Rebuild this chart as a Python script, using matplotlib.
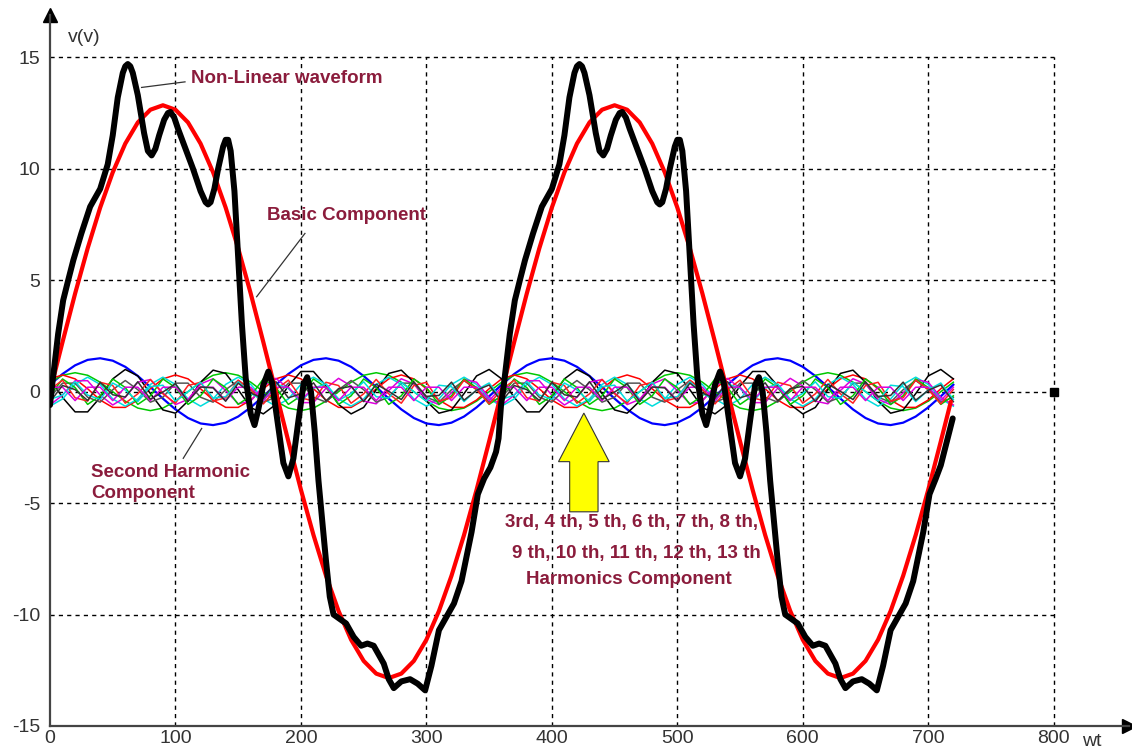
import numpy as np
import matplotlib
matplotlib.use("Agg")
import matplotlib.pyplot as plt
from matplotlib.patches import Polygon

# ---------------- data ----------------
# Basic (fundamental) component, red
fund_wt = [0, 10, 20, 30, 40, 50, 60, 70, 80, 90, 100, 110, 120, 130, 140, 150, 160, 170,
           180, 190, 200, 210, 220, 230, 240, 250, 260, 270, 280, 290, 300, 310, 320, 330, 340, 350,
           360, 370, 380, 390, 400, 410, 420, 430, 440, 450, 460, 470, 480, 490, 500, 510, 520, 530,
           540, 550, 560, 570, 580, 590, 600, 610, 620, 630, 640, 650, 660, 670, 680, 690, 700, 710, 718]
fund_v = [0.0, 2.23, 4.40, 6.43, 8.26, 9.84, 11.13, 12.08, 12.65, 12.85, 12.65, 12.08, 11.13, 9.84, 8.26, 6.43, 4.40, 2.23,
          0.0, -2.23, -4.40, -6.43, -8.26, -9.84, -11.13, -12.08, -12.65, -12.85, -12.65, -12.08, -11.13, -9.84, -8.26, -6.43, -4.40, -2.23,
          0.0, 2.23, 4.40, 6.43, 8.26, 9.84, 11.13, 12.08, 12.65, 12.85, 12.65, 12.08, 11.13, 9.84, 8.26, 6.43, 4.40, 2.23,
          0.0, -2.23, -4.40, -6.43, -8.26, -9.84, -11.13, -12.08, -12.65, -12.85, -12.65, -12.08, -11.13, -9.84, -8.26, -6.43, -4.40, -2.23, -0.45]

# Non-linear waveform, black thick
nonlin_wt = [0, 1.5, 6.5, 10.5, 14.5, 18.6, 25, 32, 40, 46, 50, 54, 58, 60, 62, 64, 66, 70, 75, 78, 81, 84, 87, 91, 94, 96,
             99, 102, 108, 114, 120, 124, 126, 128, 131, 134, 138, 140, 142, 144, 147, 150, 153, 156, 160, 163, 166, 170,
             174, 177, 181, 186, 190, 194, 198, 202, 205, 208, 211, 214, 217, 220, 223, 226, 231, 236,
             242, 248, 253, 258, 262, 266, 270, 274, 280, 287, 293, 299, 304, 310, 317, 322, 328, 336,
             341, 346, 351, 355.5, 357.5,
             359.5, 361.5, 366.5, 370.5, 374.5, 378.6, 385, 392, 400, 406, 410, 414, 418, 420, 422, 424, 426, 430, 435, 438, 441, 444, 447, 451, 454, 456,
             459, 462, 468, 474, 480, 484, 486, 488, 491, 494, 498, 500, 502, 504, 507, 510, 513, 516, 520, 523, 526, 530,
             534, 537, 541, 546, 550, 554, 558, 562, 565, 568, 571, 574, 577, 580, 583, 586, 591, 596,
             602, 608, 613, 618, 622, 626, 630, 634, 640, 647, 653, 659, 664, 670, 677, 682, 688, 696,
             701, 706, 710, 715, 719.5]
nonlin_v = [-0.6, 0.2, 2.6, 4.1, 5.0, 5.9, 7.1, 8.3, 9.1, 10.2, 11.5, 13.2, 14.3, 14.6, 14.7, 14.6, 14.3, 13.3, 11.6, 10.8, 10.6, 10.9, 11.5, 12.2, 12.5, 12.55,
            12.3, 11.8, 10.9, 10.0, 9.0, 8.5, 8.4, 8.5, 9.1, 10.0, 11.0, 11.3, 11.3, 10.8, 9.0, 6.0, 3.0, 0.6, -1.0, -1.5, -0.8, 0.3,
            0.9, 0.4, -1.2, -3.2, -3.8, -3.0, -1.3, 0.3, 0.65, 0.0, -1.8, -4.0, -5.8, -7.6, -9.2, -10.0, -10.2, -10.4,
            -11.0, -11.4, -11.3, -11.4, -11.8, -12.2, -12.9, -13.3, -13.0, -12.9, -13.1, -13.4, -12.3, -10.7, -10.0, -9.5, -8.5, -6.3,
            -4.6, -3.9, -3.4, -2.7, -2.1,
            -0.6, 0.2, 2.6, 4.1, 5.0, 5.9, 7.1, 8.3, 9.1, 10.2, 11.5, 13.2, 14.3, 14.6, 14.7, 14.6, 14.3, 13.3, 11.6, 10.8, 10.6, 10.9, 11.5, 12.2, 12.5, 12.55,
            12.3, 11.8, 10.9, 10.0, 9.0, 8.5, 8.4, 8.5, 9.1, 10.0, 11.0, 11.3, 11.3, 10.8, 9.0, 6.0, 3.0, 0.6, -1.0, -1.5, -0.8, 0.3,
            0.9, 0.4, -1.2, -3.2, -3.8, -3.0, -1.3, 0.3, 0.65, 0.0, -1.8, -4.0, -5.8, -7.6, -9.2, -10.0, -10.2, -10.4,
            -11.0, -11.4, -11.3, -11.4, -11.8, -12.2, -12.9, -13.3, -13.0, -12.9, -13.1, -13.4, -12.3, -10.7, -10.0, -9.5, -8.5, -6.3,
            -4.6, -3.9, -3.3, -2.2, -1.2]

# Harmonic components 2..13: amplitude (V) and angle of first peak (deg)
harm_order = [2, 3, 4, 5, 6, 7, 8, 9, 10, 11, 12, 13]
harm_amp = [1.5, 0.85, 0.75, 1.0, 0.65, 0.6, 0.5, 0.6, 0.55, 0.45, 0.4, 0.45]
harm_peak = [39, 20, 10, 61, 30, 25, 15, 12, 8, 20, 5, 14]
harm_colors = ['#0000FF', '#00C800', '#FF0000', '#000000', '#00DDDD', '#DD00DD',
               '#555555', '#00C800', '#FF2020', '#00DDDD', '#DD00DD', '#333333']
harm_wt = list(range(0, 721, 10))

x_ticks = [0, 100, 200, 300, 400, 500, 600, 700, 800]
y_ticks = [-15, -10, -5, 0, 5, 10, 15]

# ---------------- figure ----------------
W, H = 1132, 751
fig = plt.figure(figsize=(W / 100, H / 100), dpi=100)
ax = fig.add_axes([50 / W, 25 / H, 1079 / W, 711 / H])
ax.set_xlim(0, 860)
ax.set_ylim(-15, 16.9)

font = 'Liberation Sans'
label_col = '#8B1C3C'
axis_col = '#444444'

# grid (dashed box 0..800 x -15..15)
for xv in x_ticks[1:]:
    ax.plot([xv, xv], [-15, 15], color='black', lw=1.0, ls=(0, (3, 3)), zorder=1)
for yv in y_ticks[1:]:
    ax.plot([0, 800], [yv, yv], color='black', lw=1.0, ls=(0, (3, 3)), zorder=1)
ax.plot([800], [0], marker='s', color='black', ms=6, zorder=2)

# harmonics
hw = np.array(harm_wt, dtype=float)
for n, a, p, c in zip(harm_order, harm_amp, harm_peak, harm_colors):
    lw = 1.6 if n == 2 else 1.1
    ax.plot(hw, a * np.cos(np.radians(n * (hw - p))), color=c, lw=lw, zorder=3)

# basic and non-linear
ax.plot(fund_wt, fund_v, color='#FF0000', lw=3.0, zorder=4, solid_capstyle='round')
ax.plot(nonlin_wt, nonlin_v, color='black', lw=4.3, zorder=5, solid_joinstyle='round',
        solid_capstyle='round')

# spines / axes arrows
for s in ['top', 'right']:
    ax.spines[s].set_visible(False)
for s in ['left', 'bottom']:
    ax.spines[s].set_color(axis_col)
    ax.spines[s].set_linewidth(1.6)
ax.plot(1, 0, '>', color='black', ms=10, transform=ax.transAxes, clip_on=False)
ax.plot(0, 1, '^', color='black', ms=10, transform=ax.transAxes, clip_on=False)

ax.set_xticks(x_ticks)
ax.set_yticks(y_ticks)
ax.set_xticklabels([str(v) for v in x_ticks], fontfamily=font, fontsize=14, color='#333333')
ax.set_yticklabels([str(v) for v in y_ticks], fontfamily=font, fontsize=14, color='#333333')
ax.tick_params(axis='both', length=0)
ax.tick_params(axis='x', pad=3)
ax.tick_params(axis='y', pad=7)

fig.text(68 / W, 1 - 37 / H, 'v(v)', fontfamily=font, fontsize=14, color='#333333', va='center', ha='left')
fig.text(1082 / W, 1 - 741 / H, 'wt', fontfamily=font, fontsize=14, color='#333333', va='center', ha='left')

# annotations
tk = dict(fontfamily=font, fontsize=13.5, fontweight='bold', color=label_col)
lk = dict(color='#333333', lw=0.9)
ax.plot([73, 107.6], [13.65, 13.9], **lk)
ax.text(112.4, 14.07, 'Non-Linear waveform', va='center', ha='left', **tk)
ax.plot([164.7, 203.2], [4.26, 7.1], **lk)
ax.text(172.9, 7.92, 'Basic Component', va='center', ha='left', **tk)
ax.plot([106.2, 120.9], [-2.99, -1.65], **lk)
ax.text(32.7, -3.61, 'Second Harmonic', va='center', ha='left', **tk)
ax.text(32.7, -4.55, 'Component', va='center', ha='left', **tk)
ax.text(463.7, -5.89, '3rd, 4 th, 5 th, 6 th, 7 th, 8 th,', va='center', ha='center', **tk)
ax.text(467.0, -7.24, '9 th, 10 th, 11 th, 12 th, 13 th', va='center', ha='center', **tk)
ax.text(461.0, -8.41, 'Harmonics Component', va='center', ha='center', **tk)

# yellow arrow
tip_x, tip_y, head_y, tail_y, head_hw, shaft_hw = 425.5, -0.96, -3.14, -5.39, 20.2, 11.3
arrow = Polygon([(tip_x, tip_y), (tip_x + head_hw, head_y), (tip_x + shaft_hw, head_y),
                 (tip_x + shaft_hw, tail_y), (tip_x - shaft_hw, tail_y), (tip_x - shaft_hw, head_y),
                 (tip_x - head_hw, head_y)], closed=True, facecolor='#FFFF00', edgecolor='#333333',
                lw=0.8, zorder=6)
ax.add_patch(arrow)

fig.savefig('out.png', dpi=100, facecolor='white')
